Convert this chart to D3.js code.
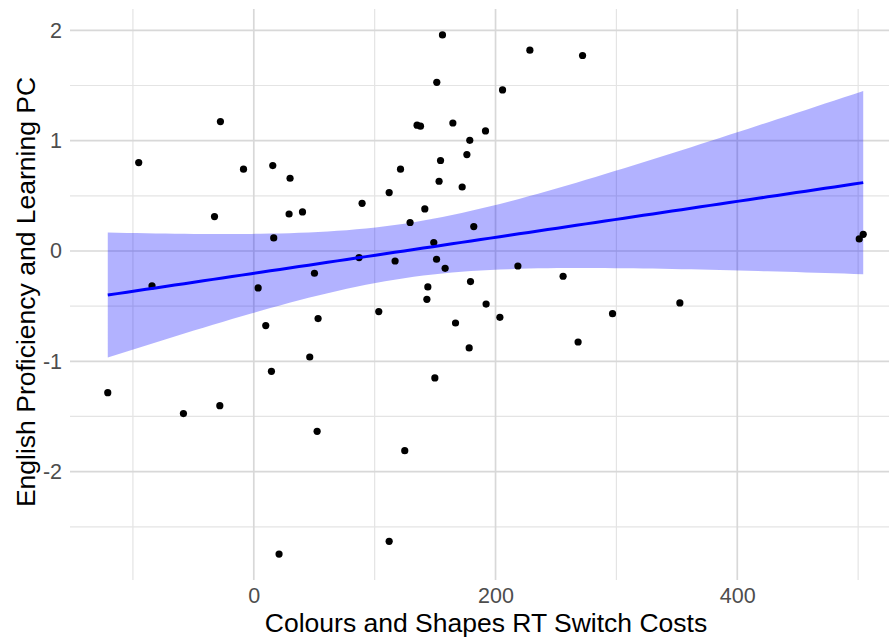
<!DOCTYPE html>
<html>
<head>
<meta charset="utf-8">
<script src="https://cdn.jsdelivr.net/npm/d3@7"></script>
<style>
  html, body { margin: 0; padding: 0; background: #fff; }
  svg { display: block; font-family: "Liberation Sans", Arial, sans-serif; }
</style>
</head>
<body>
<svg id="chart" width="889" height="639"></svg>
<script>
// Switch costs (x) and proficiency component scores (y), one entry per participant
const switchCosts = [
  -27.6, -95.2, -8.5, 15.7, 30.0, -32.5, 29.2, 40.3, 16.5, 50.2, -84.2, 3.6, 53.2,
  156.1, 228.4, 272.0, 151.4, 205.8, 135.1, 137.9, 164.7, 191.7, 178.7, 176.3, 154.5,
  121.4, 153.3, 172.4, 112.0, 89.6, 141.5, 129.3, 182.0, 148.9, 87.1, 116.9, 151.2,
  158.3, 218.5, 255.9, 144.0, 179.3, 143.2, 192.2, 103.4, 203.6, 166.9,
  504.2, 500.9, 352.5, 296.8,
  9.9, 46.3, 14.6, -120.8, -58.2, -28.1, 52.4, 20.9,
  178.2, 268.3, 149.8, 124.9, 112.0
];
const proficiencyPC = [
  1.173, 0.801, 0.741, 0.774, 0.659, 0.312, 0.335, 0.354, 0.118, -0.202, -0.317, -0.335, -0.613,
  1.958, 1.820, 1.772, 1.529, 1.460, 1.140, 1.131, 1.160, 1.088, 1.003, 0.874, 0.820,
  0.741, 0.632, 0.580, 0.529, 0.432, 0.381, 0.258, 0.221, 0.076, -0.060, -0.091, -0.075,
  -0.157, -0.136, -0.229, -0.326, -0.277, -0.438, -0.481, -0.549, -0.601, -0.653,
  0.151, 0.109, -0.471, -0.568,
  -0.676, -0.961, -1.091, -1.284, -1.474, -1.402, -1.635, -2.747,
  -0.879, -0.825, -1.151, -1.810, -2.632
];
const xTicks = [0, 200, 400];
const xMinor = [-100, 100, 300, 500];
const yTicks = [-2, -1, 0, 1, 2];
const yMinor = [-2.5, -1.5, -0.5, 0.5, 1.5];
const xTitle = "Colours and Shapes RT Switch Costs";
const yTitle = "English Proficiency and Learning PC";

const points = switchCosts.map((x, i) => ({ x, y: proficiencyPC[i] }));

// Panel geometry
const panel = { left: 70, top: 9, right: 901, bottom: 580 };

function expand([a, b], f = 0.05) {
  const d = (b - a) * f;
  return [a - d, b + d];
}
const xExt = d3.extent(switchCosts);
const yExt = d3.extent(proficiencyPC);
const x = d3.scaleLinear().domain(expand(xExt)).range([panel.left, panel.right]);
const y = d3.scaleLinear().domain(expand(yExt)).range([panel.bottom, panel.top]);

const svg = d3.select("#chart");

// Grid
const grid = svg.append("g");
grid.selectAll(".ym").data(yMinor).join("line")
  .attr("x1", panel.left).attr("x2", panel.right)
  .attr("y1", d => y(d)).attr("y2", d => y(d))
  .attr("stroke", "#e4e4e4").attr("stroke-width", 1.2);
grid.selectAll(".xm").data(xMinor).join("line")
  .attr("y1", panel.top).attr("y2", panel.bottom)
  .attr("x1", d => x(d)).attr("x2", d => x(d))
  .attr("stroke", "#e4e4e4").attr("stroke-width", 1.2);
grid.selectAll(".yM").data(yTicks).join("line")
  .attr("x1", panel.left).attr("x2", panel.right)
  .attr("y1", d => y(d)).attr("y2", d => y(d))
  .attr("stroke", "#d8d8d8").attr("stroke-width", 1.7);
grid.selectAll(".xM").data(xTicks).join("line")
  .attr("y1", panel.top).attr("y2", panel.bottom)
  .attr("x1", d => x(d)).attr("x2", d => x(d))
  .attr("stroke", "#d8d8d8").attr("stroke-width", 1.7);

// Linear fit with 95% confidence band
const n = points.length;
const mx = d3.mean(switchCosts), my = d3.mean(proficiencyPC);
const sxx = d3.sum(switchCosts, v => (v - mx) ** 2);
const sxy = d3.sum(points, p => (p.x - mx) * (p.y - my));
const slope = sxy / sxx, icpt = my - slope * mx;
const sse = d3.sum(points, p => (p.y - (icpt + slope * p.x)) ** 2);
const s = Math.sqrt(sse / (n - 2));
const tCrit = 1.999; // t(0.975, df = 62)
const fit = d3.range(80).map(i => {
  const xv = xExt[0] + (xExt[1] - xExt[0]) * i / 79;
  const yv = icpt + slope * xv;
  const se = s * Math.sqrt(1 / n + (xv - mx) ** 2 / sxx);
  return { x: xv, y: yv, lo: yv - tCrit * se, hi: yv + tCrit * se };
});

svg.append("path").datum(fit)
  .attr("d", d3.area().x(d => x(d.x)).y0(d => y(d.lo)).y1(d => y(d.hi)))
  .attr("fill", "blue").attr("fill-opacity", 0.3);

// Points
svg.append("g").selectAll("circle").data(points).join("circle")
  .attr("cx", d => x(d.x)).attr("cy", d => y(d.y)).attr("r", 3.6)
  .attr("fill", "#000");

svg.append("path").datum(fit)
  .attr("d", d3.line().x(d => x(d.x)).y(d => y(d.y)))
  .attr("fill", "none").attr("stroke", "blue").attr("stroke-width", 3);

// Axes (labels only, as in a minimal theme); plain hyphen for negatives
const fmt = d => String(d);
const yAxis = svg.append("g").attr("transform", `translate(${panel.left - 8},0)`)
  .call(d3.axisLeft(y).tickValues(yTicks).tickSize(0).tickPadding(0).tickFormat(fmt));
yAxis.select(".domain").remove();
yAxis.selectAll("text").attr("fill", "#4d4d4d").attr("font-size", 21.5)
  .attr("font-family", "Liberation Sans, Arial, sans-serif");

const xAxis = svg.append("g").attr("transform", `translate(0,${panel.bottom + 8})`)
  .call(d3.axisBottom(x).tickValues(xTicks).tickSize(0).tickPadding(0).tickFormat(fmt));
xAxis.select(".domain").remove();
xAxis.selectAll("text").attr("fill", "#4d4d4d").attr("font-size", 21.5)
  .attr("font-family", "Liberation Sans, Arial, sans-serif");

svg.append("text")
  .attr("x", 486).attr("y", 632)
  .attr("text-anchor", "middle").attr("font-size", 26.5).attr("fill", "#000")
  .text(xTitle);

svg.append("text")
  .attr("transform", `translate(35,292) rotate(-90)`)
  .attr("text-anchor", "middle").attr("font-size", 26.5).attr("fill", "#000")
  .text(yTitle);
</script>
</body>
</html>
